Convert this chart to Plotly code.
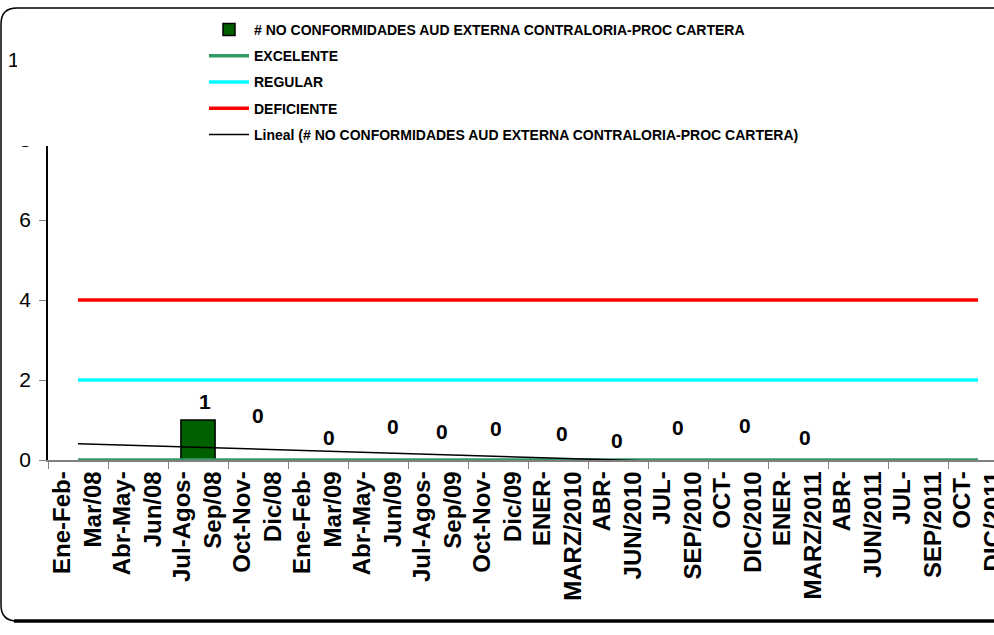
import numpy as np
import plotly.graph_objects as go

categories = [
    "Ene-Feb-<br>Mar/08", "Abr-May-<br>Jun/08", "Jul-Agos-<br>Sep/08", "Oct-Nov-<br>Dic/08",
    "Ene-Feb-<br>Mar/09", "Abr-May-<br>Jun/09", "Jul-Agos-<br>Sep/09", "Oct-Nov-<br>Dic/09",
    "ENER-<br>MARZ/2010", "ABR-<br>JUN/2010", "JUL-<br>SEP/2010", "OCT-<br>DIC/2010",
    "ENER-<br>MARZ/2011", "ABR-<br>JUN/2011", "JUL-<br>SEP/2011", "OCT-<br>DIC/2011",
]
no_conformidades = [None, None, 1, 0, 0, 0, 0, 0, 0, 0, 0, 0, 0, None, None, None]
excelente = [0] * 16
regular = [2] * 16
deficiente = [4] * 16

# label nudges (pixels) for the data labels, as placed in the original
label_dx = [0, 0, 7, 0, 11, 15, 4, -2, 4, -1, 0, 7, 7, 0, 0, 0]
label_dy = [0, 0, 19, 45, 23, 34, 29, 32, 27, 20, 33, 35, 23, 0, 0, 0]

bar_name = "# NO CONFORMIDADES AUD EXTERNA CONTRALORIA-PROC CARTERA"

# linear trendline (Excel "Lineal") fitted on the available values
idx = np.array([i for i, v in enumerate(no_conformidades) if v is not None], dtype=float)
vals = np.array([v for v in no_conformidades if v is not None], dtype=float)
slope, intercept = np.polyfit(idx, vals, 1)
xs = np.arange(len(categories))
trend = intercept + slope * xs

fig = go.Figure()
fig.add_trace(go.Bar(
    x=categories, y=no_conformidades, name=bar_name,
    marker=dict(color="#006000", line=dict(color="black", width=1.5)),
    legendgroup="a",
))
fig.add_trace(go.Scatter(x=categories, y=excelente, mode="lines", name="EXCELENTE",
                         line=dict(color="#339966", width=3.5), legendgroup="b"))
fig.add_trace(go.Scatter(x=categories, y=regular, mode="lines", name="REGULAR",
                         line=dict(color="#00FFFF", width=3.5), legendgroup="c"))
fig.add_trace(go.Scatter(x=categories, y=deficiente, mode="lines", name="DEFICIENTE",
                         line=dict(color="#FF0000", width=3.5), legendgroup="d"))
fig.add_trace(go.Scatter(x=categories, y=trend, mode="lines",
                         name="Lineal (" + bar_name + ")",
                         line=dict(color="black", width=1.5), legendgroup="e"))

for i, v in enumerate(no_conformidades):
    if v is None:
        continue
    fig.add_annotation(x=categories[i], y=v, text=str(v), showarrow=False,
                       xshift=label_dx[i], yshift=label_dy[i], yanchor="middle",
                       font=dict(family="Liberation Sans", size=21, color="black", weight="bold"))

L, T, W, H = 48, 60, 994, 635
PW, PH = W - L, 400


def px(xp):
    return (xp - L) / PW


def py(yp):
    return (T + PH - yp) / PH


shapes = []
# white legend backdrop covering the upper part of the value axis
shapes.append(dict(type="rect", xref="paper", yref="paper", layer="above",
                   x0=px(17), x1=px(1000), y0=py(146), y1=py(10),
                   fillcolor="white", line=dict(width=0)))
# chart area rounded border
r = 16
path = (f"M {px(1000)},{py(8)} L {px(1+r)},{py(8)} Q {px(1)},{py(8)} {px(1)},{py(8+r)} "
        f"L {px(1)},{py(621-r)} Q {px(1)},{py(621)} {px(1+r)},{py(621)} L {px(1000)},{py(621)}")
shapes.append(dict(type="path", xref="paper", yref="paper", layer="above", path=path,
                   line=dict(color="black", width=1.5)))
shapes.append(dict(type="line", xref="paper", yref="paper", layer="above",
                   x0=px(14), x1=px(1000), y0=py(621), y1=py(621),
                   line=dict(color="black", width=3.5)))

fig.update_layout(
    width=W, height=H,
    margin=dict(l=L, r=0, t=T, b=H - T - PH, pad=0, autoexpand=False),
    paper_bgcolor="white", plot_bgcolor="white",
    font=dict(family="Liberation Sans", color="black"),
    bargap=0.43,
    showlegend=True,
    legend=dict(
        x=px(204), y=py(14), xanchor="left", yanchor="top",
        bgcolor="rgba(0,0,0,0)", traceorder="grouped", tracegroupgap=5,
        font=dict(family="Liberation Sans", size=14, color="black", weight="bold"),
        itemwidth=40,
    ),
    xaxis=dict(
        type="category", range=[-0.5, -0.5 + PW / 60.0], automargin=False,
        tickangle=-90, tickson="boundaries", ticks="outside", ticklen=7,
        tickcolor="#808080", showline=True, linecolor="#808080", linewidth=1.5,
        tickfont=dict(family="Liberation Sans", size=24, color="black", weight="bold"),
        showgrid=False, zeroline=False,
    ),
    yaxis=dict(
        range=[0, 10], dtick=2, ticks="outside", ticklen=7, tickcolor="#808080",
        ticklabelstandoff=4, automargin=False,
        showline=True, linecolor="black", linewidth=1.5,
        tickfont=dict(family="Liberation Sans", size=21, color="black"),
        showgrid=False, zeroline=False,
    ),
    shapes=shapes,
)

fig.write_html(
    "out.html",
    config={"displayModeBar": False},
    post_script="document.body.style.margin='0';document.body.style.overflow='hidden';",
)
